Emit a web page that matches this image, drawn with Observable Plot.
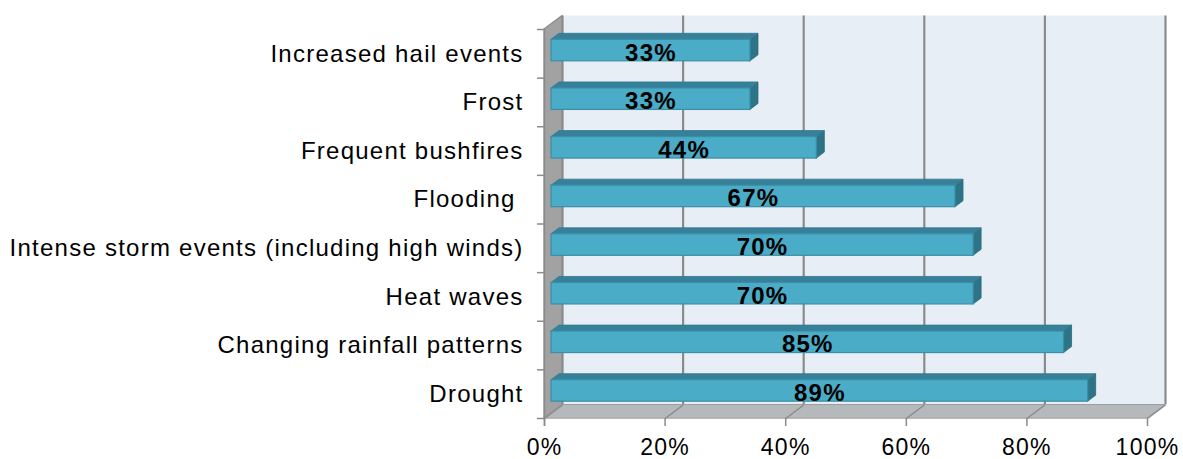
<!DOCTYPE html>
<html>
<head>
<meta charset="utf-8">
<script src="https://cdn.jsdelivr.net/npm/d3@7"></script>
<script src="https://cdn.jsdelivr.net/npm/@observablehq/plot@0.6"></script>
<style>
  html, body { margin: 0; padding: 0; background: #ffffff; }
  #chart svg text { letter-spacing: 1.25px; white-space: pre; }
</style>
</head>
<body>
<div id="chart"></div>
<script>
// Climate-related events, share of respondents
const categories = [
  "Increased hail events",
  "Frost",
  "Frequent bushfires",
  "Flooding ",
  "Intense storm events (including high winds)",
  "Heat waves",
  "Changing rainfall patterns",
  "Drought"
];
const values = [33, 33, 44, 67, 70, 70, 85, 89];
const tickValues = [0, 20, 40, 60, 80, 100];
const tickLabels = ["0%", "20%", "40%", "60%", "80%", "100%"];

// Front plane of the 3-D box, in pixels
const X_DOMAIN = [0, 100], X_RANGE = [544, 1147];
const Y_DOMAIN = [-0.5, categories.length - 0.5], Y_RANGE = [418, 29];
const KX = (X_RANGE[1] - X_RANGE[0]) / (X_DOMAIN[1] - X_DOMAIN[0]);
const KY = (Y_RANGE[0] - Y_RANGE[1]) / (Y_DOMAIN[1] - Y_DOMAIN[0]);

// Depth of the box and of each bar, in pixels
const WALL_DX = 18, WALL_DY = 13.5;
const BAR_SHIFT = 7, BAR_DX = 8, BAR_DY = 6;
const FACE_TOP = 14, FACE_BOTTOM = 7.5;

const wx = WALL_DX / KX, wy = WALL_DY / KY;
const bx = BAR_DX / KX, by = BAR_DY / KY;
const ft = FACE_TOP / KY, fb = FACE_BOTTOM / KY;

const rows = categories.map((label, k) => ({
  label, value: values[k], i: categories.length - 1 - k
}));

const yLow = Y_DOMAIN[0], yHigh = Y_DOMAIN[1];
const boundaries = d3.range(categories.length + 1).map(k => k - 0.5);

const barTops = rows.flatMap(d => [
  {key: d.label, y: d.i + ft, x1: 0, x2: d.value},
  {key: d.label, y: d.i + ft + by, x1: bx, x2: d.value + bx}
]);
const barSides = rows.flatMap(d => [
  {key: d.label, x: d.value, y1: d.i - fb, y2: d.i + ft},
  {key: d.label, x: d.value + bx, y1: d.i - fb + by, y2: d.i + ft + by}
]);

const gridColor = "#8B8B8B";

const chart = Plot.plot({
  width: 1183,
  height: 459,
  margin: 0,
  style: {fontFamily: "'Liberation Sans', Arial, sans-serif", background: "#ffffff", color: "#000"},
  x: {domain: X_DOMAIN, range: X_RANGE, axis: null},
  y: {domain: Y_DOMAIN, range: Y_RANGE, axis: null},
  marks: [
    // back wall and its gridlines
    Plot.rect([0], {x1: X_DOMAIN[0], x2: X_DOMAIN[1], y1: yLow, y2: yHigh,
      dx: WALL_DX, dy: -WALL_DY, fill: "#E7EEF6"}),
    Plot.ruleX(tickValues, {x: d => d, y1: yLow, y2: yHigh, dx: WALL_DX, dy: -WALL_DY,
      stroke: gridColor, strokeWidth: 2.2}),
    // left wall
    Plot.areaY([
      {x: 0, y1: yLow, y2: yHigh},
      {x: wx, y1: yLow + wy, y2: yHigh + wy}
    ], {x: "x", y1: "y1", y2: "y2", fill: "#A2A2A2", stroke: "#8A8A8A", strokeWidth: 1.2}),
    // floor
    Plot.areaX([
      {y: yLow, x1: X_DOMAIN[0], x2: X_DOMAIN[1]},
      {y: yLow + wy, x1: X_DOMAIN[0] + wx, x2: X_DOMAIN[1] + wx}
    ], {y: "y", x1: "x1", x2: "x2", fill: "#B5B9BC", stroke: "#9C9FA2", strokeWidth: 1}),
    Plot.link(tickValues, {x1: d => d, y1: yLow, x2: d => d + wx, y2: yLow + wy,
      stroke: gridColor, strokeWidth: 1.5}),
    // axis ticks
    Plot.ruleX(tickValues, {x: d => d, y1: yLow, y2: yLow - 8 / KY, stroke: gridColor, strokeWidth: 1.5}),
    Plot.ruleY(boundaries, {y: d => d, x1: -7 / KX, x2: 0, stroke: gridColor, strokeWidth: 1.5}),
    Plot.ruleX([0], {x: d => d, y1: yLow - 8 / KY, y2: yHigh, stroke: gridColor, strokeWidth: 1.5}),
    // bars: side, top and front faces
    Plot.areaY(barSides, {x: "x", y1: "y1", y2: "y2", z: "key", dx: BAR_SHIFT,
      fill: "#2E7487", stroke: "#2A6B7E", strokeWidth: 0.8}),
    Plot.areaX(barTops, {y: "y", x1: "x1", x2: "x2", z: "key", dx: BAR_SHIFT,
      fill: "#37809A", stroke: "#31798F", strokeWidth: 0.8}),
    Plot.rect(rows, {x1: 0, x2: "value", y1: d => d.i - fb, y2: d => d.i + ft, dx: BAR_SHIFT,
      fill: "#4AACC7", stroke: "#3A8EA6", strokeWidth: 1.2}),
    // value labels
    Plot.text(rows, {x: d => d.value / 2, y: "i", dx: BAR_SHIFT, dy: -1,
      text: d => `${d.value}%`, fontWeight: "bold", fontSize: 24, fill: "#000"}),
    // category labels
    Plot.text(rows, {x: 0, y: "i", dx: -21, textAnchor: "end", text: "label",
      fontSize: 24, fill: "#000"}),
    // tick labels
    Plot.text(tickValues, {x: d => d, y: yLow, dy: 29, text: (d, k) => tickLabels[k],
      fontSize: 23, fill: "#000"})
  ]
});

document.getElementById("chart").appendChild(chart);
</script>
</body>
</html>
